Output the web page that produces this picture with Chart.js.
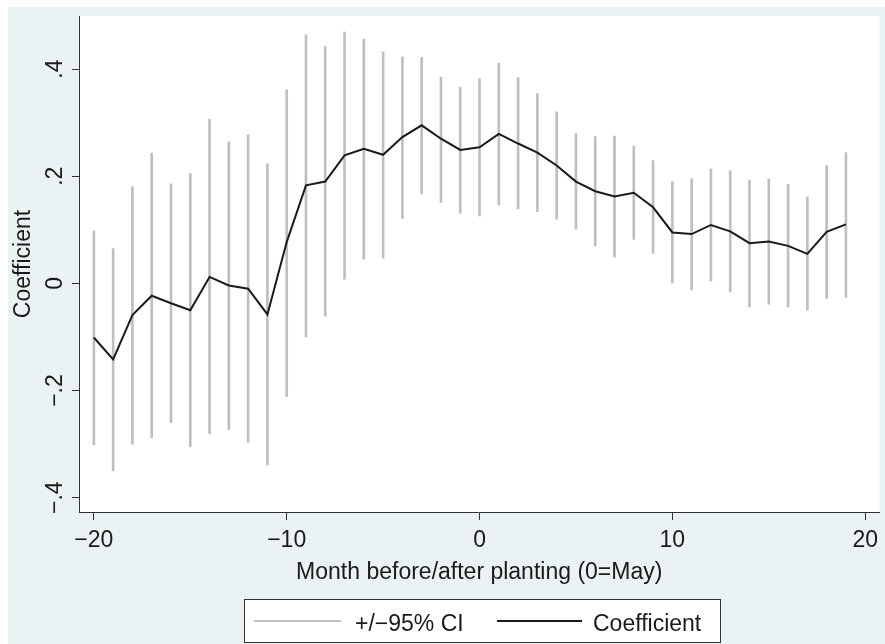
<!DOCTYPE html>
<html><head><meta charset="utf-8">
<script src="https://cdn.jsdelivr.net/npm/chart.js@4.4.1/dist/chart.umd.min.js"></script>
<style>html,body{margin:0;padding:0;background:#fff;} canvas{display:block;}</style>
</head><body>
<canvas id="c" width="885" height="644"></canvas>
<script>
const months = [-20,-19,-18,-17,-16,-15,-14,-13,-12,-11,-10,-9,-8,-7,-6,-5,-4,-3,-2,-1,0,1,2,3,4,5,6,7,8,9,10,11,12,13,14,15,16,17,18,19];
const coefficient = [-0.101,-0.142,-0.059,-0.023,-0.037,-0.050,0.012,-0.004,-0.010,-0.058,
  0.077,0.183,0.190,0.239,0.251,0.240,0.273,0.295,0.270,0.249,
  0.254,0.279,0.261,0.244,0.220,0.190,0.172,0.162,0.169,0.142,
  0.095,0.092,0.109,0.097,0.075,0.078,0.070,0.055,0.096,0.110];
const ciHigh = [0.098,0.065,0.180,0.243,0.186,0.205,0.306,0.264,0.277,0.223,
  0.361,0.464,0.442,0.469,0.456,0.432,0.423,0.422,0.385,0.366,
  0.382,0.411,0.384,0.354,0.320,0.280,0.274,0.275,0.256,0.229,
  0.190,0.195,0.214,0.210,0.193,0.195,0.185,0.161,0.220,0.244];
const ciLow = [-0.301,-0.350,-0.300,-0.288,-0.260,-0.305,-0.281,-0.273,-0.297,-0.339,
  -0.211,-0.100,-0.061,0.008,0.045,0.047,0.121,0.167,0.151,0.131,
  0.126,0.146,0.139,0.134,0.120,0.101,0.070,0.049,0.082,0.056,
  0.000,-0.012,0.004,-0.016,-0.044,-0.039,-0.044,-0.050,-0.028,-0.026];
const xTicks = [-20,-10,0,10,20];
const yTicks = [-0.4,-0.2,0,0.2,0.4];
const seriesLabels = ['+/\u221295% CI','Coefficient'];
const xTitle = 'Month before/after planting (0=May)';
const yTitle = 'Coefficient';

const FONT = "'Liberation Sans', Arial, Helvetica, sans-serif";
const FS = 23;
const INK = '#1a1a1a';
const AXIS = '#333333';
const CI_COLOR = '#bfbfbf';

function fmtY(v){ if (Math.abs(v) < 1e-9) return '0'; const s = Math.abs(v).toFixed(1).replace(/^0/, ''); return (v < 0 ? '\u2212' : '') + s; }
function fmtX(v){ return (v < 0 ? '\u2212' : '') + Math.abs(v); }

const bgPlugin = {
  id: 'bg',
  beforeDraw(chart) {
    const {ctx, chartArea: a} = chart;
    ctx.save();
    ctx.fillStyle = '#ffffff';
    ctx.fillRect(0, 0, chart.width, chart.height);
    ctx.fillStyle = '#eaf2f3';
    ctx.fillRect(8, 7, chart.width - 8, chart.height - 7);
    ctx.fillStyle = '#ffffff';
    ctx.fillRect(a.left, a.top, a.right - a.left, a.bottom - a.top);
    ctx.restore();
  }
};

const yLabelPlugin = {
  id: 'ylab',
  afterDraw(chart) {
    const s = chart.scales.y;
    const ctx = chart.ctx;
    ctx.save();
    ctx.font = FS + 'px ' + FONT;
    ctx.fillStyle = INK;
    ctx.textAlign = 'center';
    ctx.textBaseline = 'alphabetic';
    s.ticks.forEach(t => {
      const y = s.getPixelForValue(t.value);
      ctx.save();
      ctx.translate(s.right - 17, y);
      ctx.rotate(-Math.PI / 2);
      ctx.fillText(fmtY(t.value), 0, 0);
      ctx.restore();
    });
    ctx.restore();
  }
};

const legendPlugin = {
  id: 'boxlegend',
  afterDraw(chart) {
    const ctx = chart.ctx;
    const ds = chart.data.datasets;
    const bx = 244, by = 599, bw = 476, bh = 43;
    ctx.save();
    ctx.fillStyle = '#ffffff';
    ctx.fillRect(bx, by, bw, bh);
    ctx.strokeStyle = AXIS;
    ctx.lineWidth = 1;
    ctx.strokeRect(bx + 0.5, by + 0.5, bw, bh);
    ctx.font = FS + 'px ' + FONT;
    ctx.fillStyle = INK;
    ctx.textAlign = 'left';
    ctx.textBaseline = 'alphabetic';
    const items = [
      {x0: 254, x1: 341, tx: 355, d: ds[0], w: 2},
      {x0: 497, x1: 582, tx: 593, d: ds[1], w: 2}
    ];
    items.forEach(it => {
      ctx.strokeStyle = it.d.legendColor;
      ctx.lineWidth = it.w;
      ctx.beginPath();
      ctx.moveTo(it.x0, 621);
      ctx.lineTo(it.x1, 621);
      ctx.stroke();
      ctx.fillText(it.d.label, it.tx, 631);
    });
    ctx.restore();
  }
};

const ciData = months.map((m, i) => ({x: m, y: [ciLow[i], ciHigh[i]]}));
const coefData = months.map((m, i) => ({x: m, y: coefficient[i]}));

new Chart(document.getElementById('c'), {
  data: {
    datasets: [
      {
        type: 'bar', label: seriesLabels[0], data: ciData,
        backgroundColor: CI_COLOR, legendColor: CI_COLOR,
        borderWidth: 0, barThickness: 2, order: 1
      },
      {
        type: 'line', label: seriesLabels[1], data: coefData,
        borderColor: INK, legendColor: INK, borderWidth: 2, pointRadius: 0,
        tension: 0, fill: false, order: 0
      }
    ]
  },
  options: {
    responsive: false,
    animation: false,
    devicePixelRatio: 1,
    layout: { padding: { left: 8, top: 16, right: 0, bottom: 54 } },
    plugins: { legend: { display: false }, tooltip: { enabled: false } },
    scales: {
      x: {
        type: 'linear', min: -20.77, max: 20.74, offset: false,
        afterBuildTicks: s => { s.ticks = xTicks.map(v => ({value: v})); },
        afterFit: s => { s.height = 78; },
        ticks: { callback: v => fmtX(v), font: {size: FS, family: FONT}, color: INK, padding: 7, maxRotation: 0, minRotation: 0, autoSkip: false },
        grid: { offset: false, drawOnChartArea: false, drawTicks: true, tickLength: 8, tickColor: AXIS, tickWidth: 1 },
        border: { display: true, color: AXIS, width: 1 },
        title: { display: true, text: xTitle, font: {size: FS, family: FONT}, color: INK, padding: {top: 0, bottom: 4} }
      },
      y: {
        type: 'linear', min: -0.4267, max: 0.499,
        afterBuildTicks: s => { s.ticks = yTicks.map(v => ({value: v})); },
        afterFit: s => { s.width = 71; },
        ticks: { display: false },
        grid: { offset: false, drawOnChartArea: false, drawTicks: true, tickLength: 7, tickColor: AXIS, tickWidth: 1 },
        border: { display: true, color: AXIS, width: 1 },
        title: { display: true, text: yTitle, font: {size: FS, family: FONT}, color: INK, padding: {top: 2, bottom: 0} }
      }
    }
  },
  plugins: [bgPlugin, yLabelPlugin, legendPlugin]
});
</script>
</body></html>
